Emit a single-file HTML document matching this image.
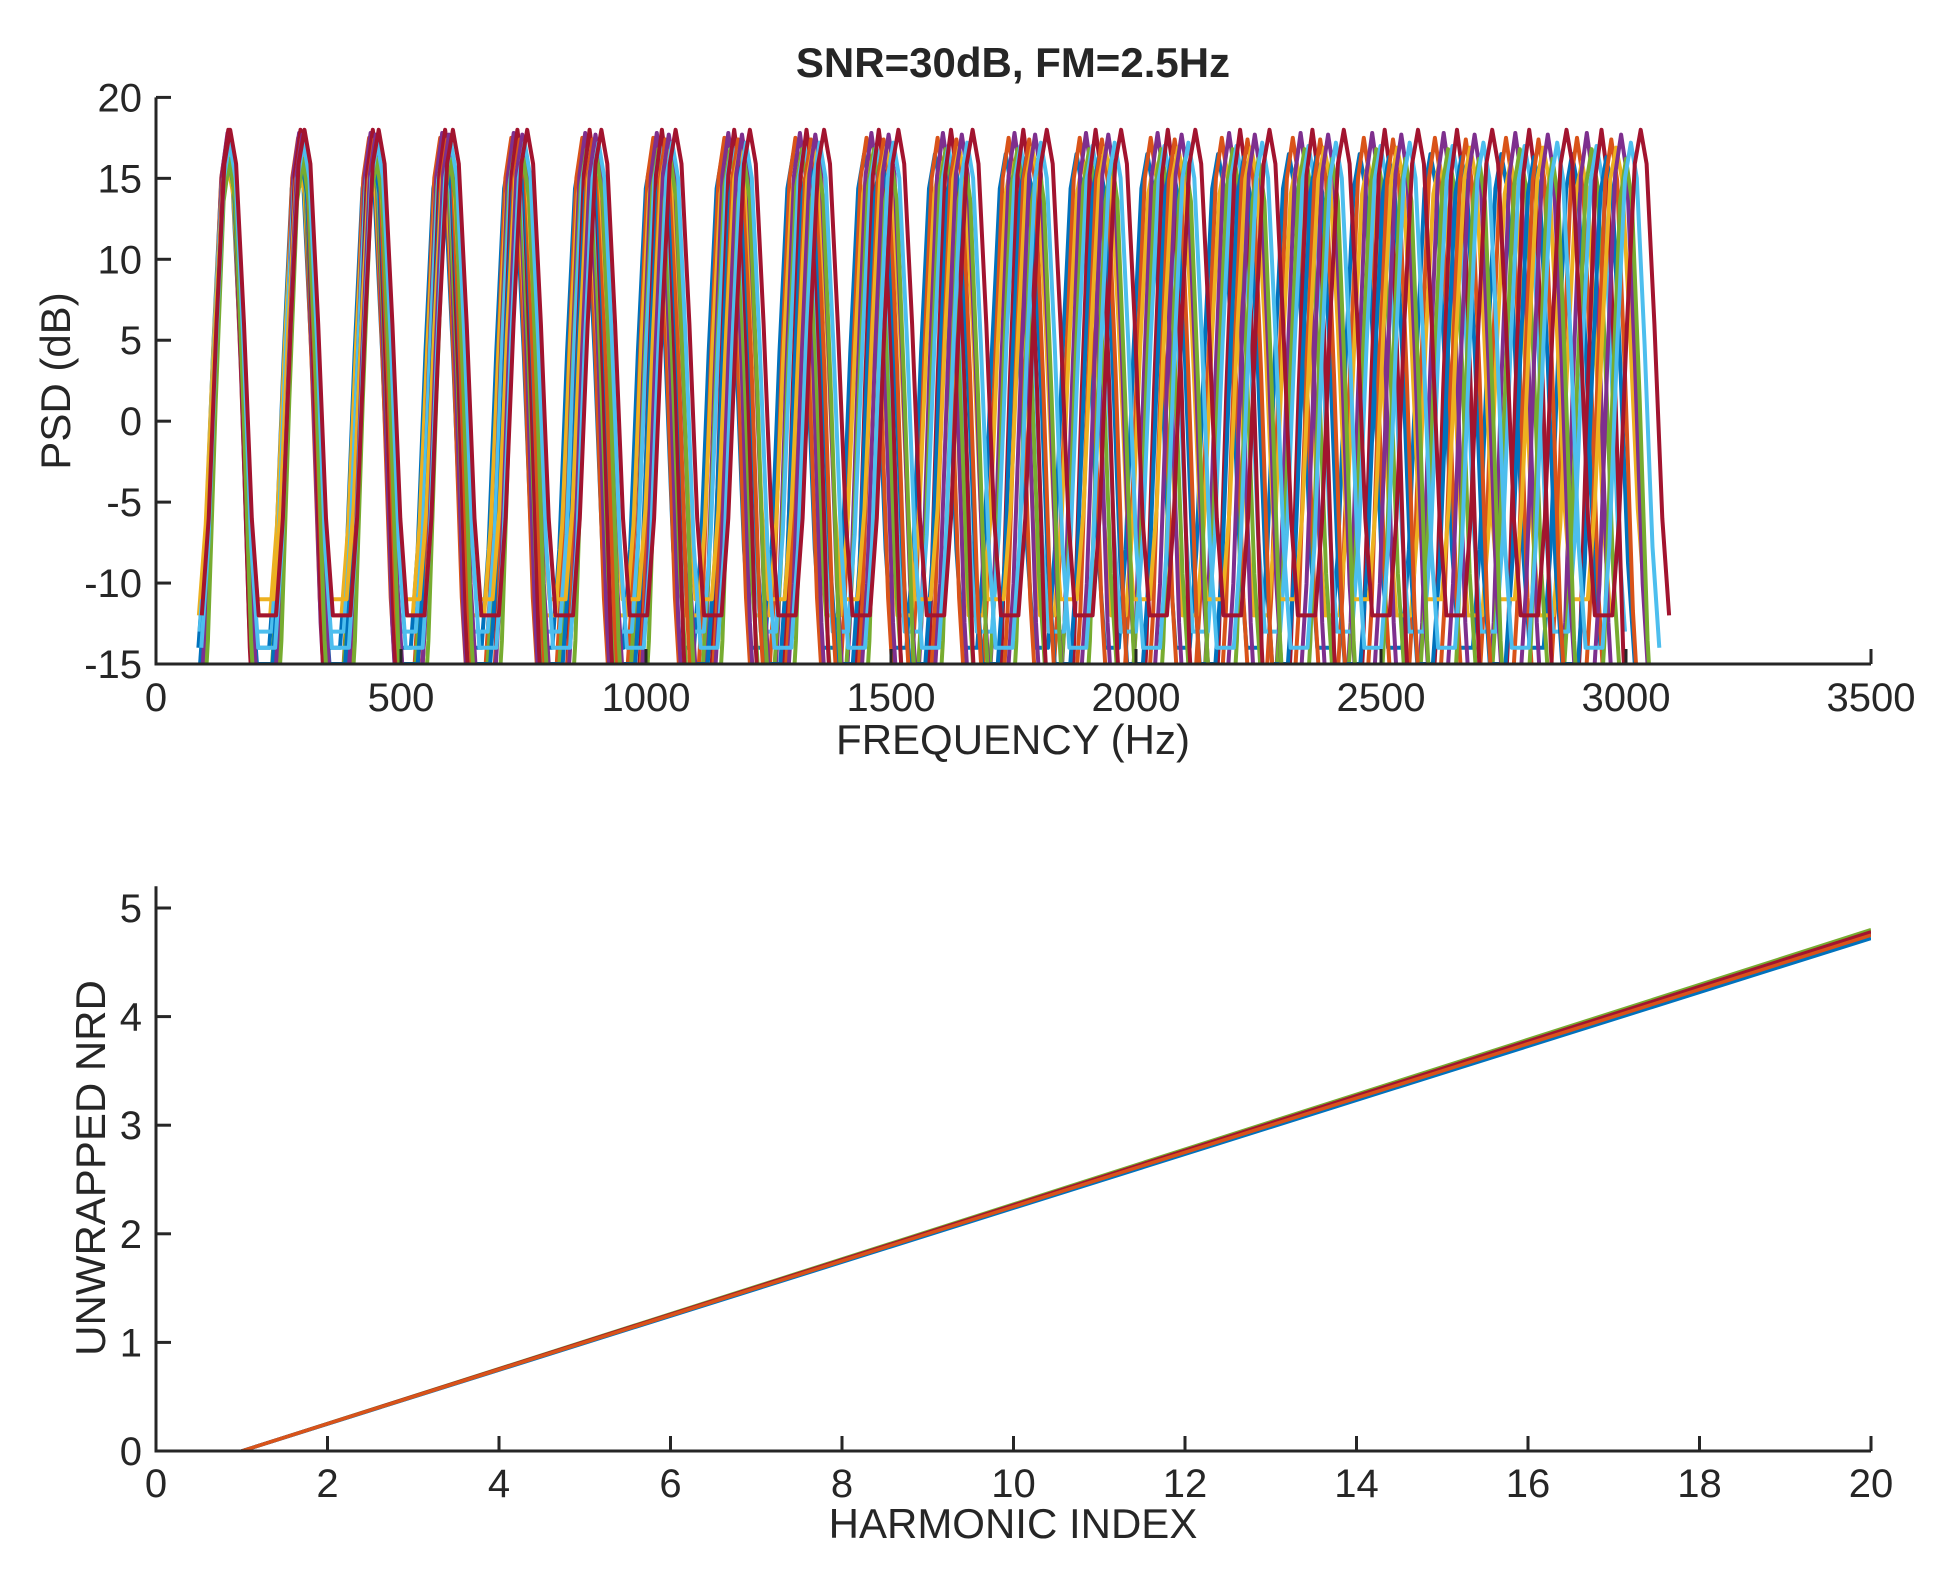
<!DOCTYPE html>
<html><head><meta charset="utf-8"><style>
body{margin:0;background:#fff}
svg text{font-family:"Liberation Sans",sans-serif;fill:#262626}
</style></head><body>
<svg id="fig" width="1958" height="1589" viewBox="0 0 1958 1589" xmlns="http://www.w3.org/2000/svg">
<defs><clipPath id="c1"><rect x="156" y="90" width="1715" height="574"/></clipPath>
<clipPath id="c2"><rect x="156" y="890" width="1715" height="561"/></clipPath></defs>
<text x="1013" y="77" font-size="42" font-weight="bold" text-anchor="middle">SNR=30dB, FM=2.5Hz</text>
<g id="topPlot"></g>
<g id="botPlot"></g>
</svg>
<script>
const colors=['#0072BD','#D95319','#EDB120','#7E2F8E','#77AC30','#4DBEEE','#A2142F'];
// top chart data
const psdXTicks=[0,500,1000,1500,2000,2500,3000,3500];
const psdYTicks=[-15,-10,-5,0,5,10,15,20];
const fundamentals=[144.5,145,145.5,146,146.5,147,147.5,148,148.5,149,149.5,150,150.5,151.5];
const peakLevels=[16.5,17.5,16,17.8,16.8,17,18,16.3,17.4,16.9,17.7,16.2,17.2,18];
const troughLevels=[-14,-18,-12,-20,-16,-13,-22,-15,-19,-11,-17,-21,-14,-12];
const shapeOffsets=[-58,-44,-28,-12,0,12,28,44,58];
const shapeRel=[0,0.2,0.6,0.93,1,0.93,0.6,0.2,0];
const harmonics=[1,2,3,4,5,6,7,8,9,10,11,12,13,14,15,16,17,18,19,20];
// bottom chart data
const nrdXTicks=[0,2,4,6,8,10,12,14,16,18,20];
const nrdYTicks=[0,1,2,3,4,5];
const nrdStart=[0,0,0,0,0,0,0];
const nrdEnd=[4.74,4.76,4.8,4.73,4.78,4.72,4.75];

const NS='http://www.w3.org/2000/svg';
function mk(tag,attrs,parent){const e=document.createElementNS(NS,tag);for(const k in attrs)e.setAttribute(k,attrs[k]);parent.appendChild(e);return e;}
const X0=156,X1=1871;
const tx=f=>X0+f/3500*(X1-X0);
const ty=v=>664-(v+15)/35*(664-97.4);
const bx=h=>X0+h/20*(X1-X0);
const by=v=>1451-v/5*(1451-908);
const topG=document.getElementById('topPlot'),botG=document.getElementById('botPlot');

// top series
const gT=mk('g',{'clip-path':'url(#c1)'},topG);
fundamentals.forEach((f0,i)=>{
  const pts=[];
  harmonics.forEach(k=>{
    shapeOffsets.forEach((o,j)=>{
      const v=troughLevels[i]+(peakLevels[i]-troughLevels[i])*shapeRel[j];
      pts.push(tx(k*f0+o).toFixed(1)+','+ty(v).toFixed(1));
    });
  });
  const p=mk('polyline',{points:pts.join(' '),fill:'none',stroke:colors[i%7],'stroke-width':4,'stroke-linejoin':'round'},gT);
  
  
});
// top axes
const ax=mk('path',{d:`M${X0},${ty(20)}V${ty(-15)}H${X1}`,fill:'none',stroke:'#262626','stroke-width':3},topG);


psdXTicks.forEach(t=>{
  mk('line',{x1:tx(t),x2:tx(t),y1:ty(-15),y2:ty(-15)-15,stroke:'#262626','stroke-width':3},topG);
  const e=mk('text',{x:tx(t),y:711,'font-size':40,'text-anchor':'middle'},topG);e.textContent=t;
  
  
});
psdYTicks.forEach(t=>{
  mk('line',{x1:X0,x2:X0+15,y1:ty(t),y2:ty(t),stroke:'#262626','stroke-width':3},topG);
  const e=mk('text',{x:142,y:ty(t)+14,'font-size':40,'text-anchor':'end'},topG);e.textContent=t;
  
  
});
let lbl=mk('text',{x:1013,y:754,'font-size':42,'text-anchor':'middle'},topG);lbl.textContent='FREQUENCY (Hz)';


lbl=mk('text',{x:70,y:381,'font-size':42,'text-anchor':'middle',transform:'rotate(-90 70 381)'},topG);lbl.textContent='PSD (dB)';



// bottom series
const gB=mk('g',{'clip-path':'url(#c2)'},botG);
nrdEnd.forEach((v,i)=>{
  const l=mk('line',{x1:bx(1),y1:by(nrdStart[i]),x2:bx(20),y2:by(v),stroke:colors[(i+2)%7],'stroke-width':3.5},gB);
  
  
});
const ax2=mk('path',{d:`M${X0},${by(5.2)}V${by(0)}H${X1}`,fill:'none',stroke:'#262626','stroke-width':3},botG);


nrdXTicks.forEach(t=>{
  mk('line',{x1:bx(t),x2:bx(t),y1:by(0),y2:by(0)-15,stroke:'#262626','stroke-width':3},botG);
  const e=mk('text',{x:bx(t),y:1497,'font-size':40,'text-anchor':'middle'},botG);e.textContent=t;
  
  
});
nrdYTicks.forEach(t=>{
  mk('line',{x1:X0,x2:X0+15,y1:by(t),y2:by(t),stroke:'#262626','stroke-width':3},botG);
  const e=mk('text',{x:142,y:by(t)+14,'font-size':40,'text-anchor':'end'},botG);e.textContent=t;
  
  
});
lbl=mk('text',{x:1013,y:1538,'font-size':42,'text-anchor':'middle'},botG);lbl.textContent='HARMONIC INDEX';


lbl=mk('text',{x:105,y:1168,'font-size':42,'text-anchor':'middle',transform:'rotate(-90 105 1168)'},botG);lbl.textContent='UNWRAPPED NRD';


</script>
</body></html>
